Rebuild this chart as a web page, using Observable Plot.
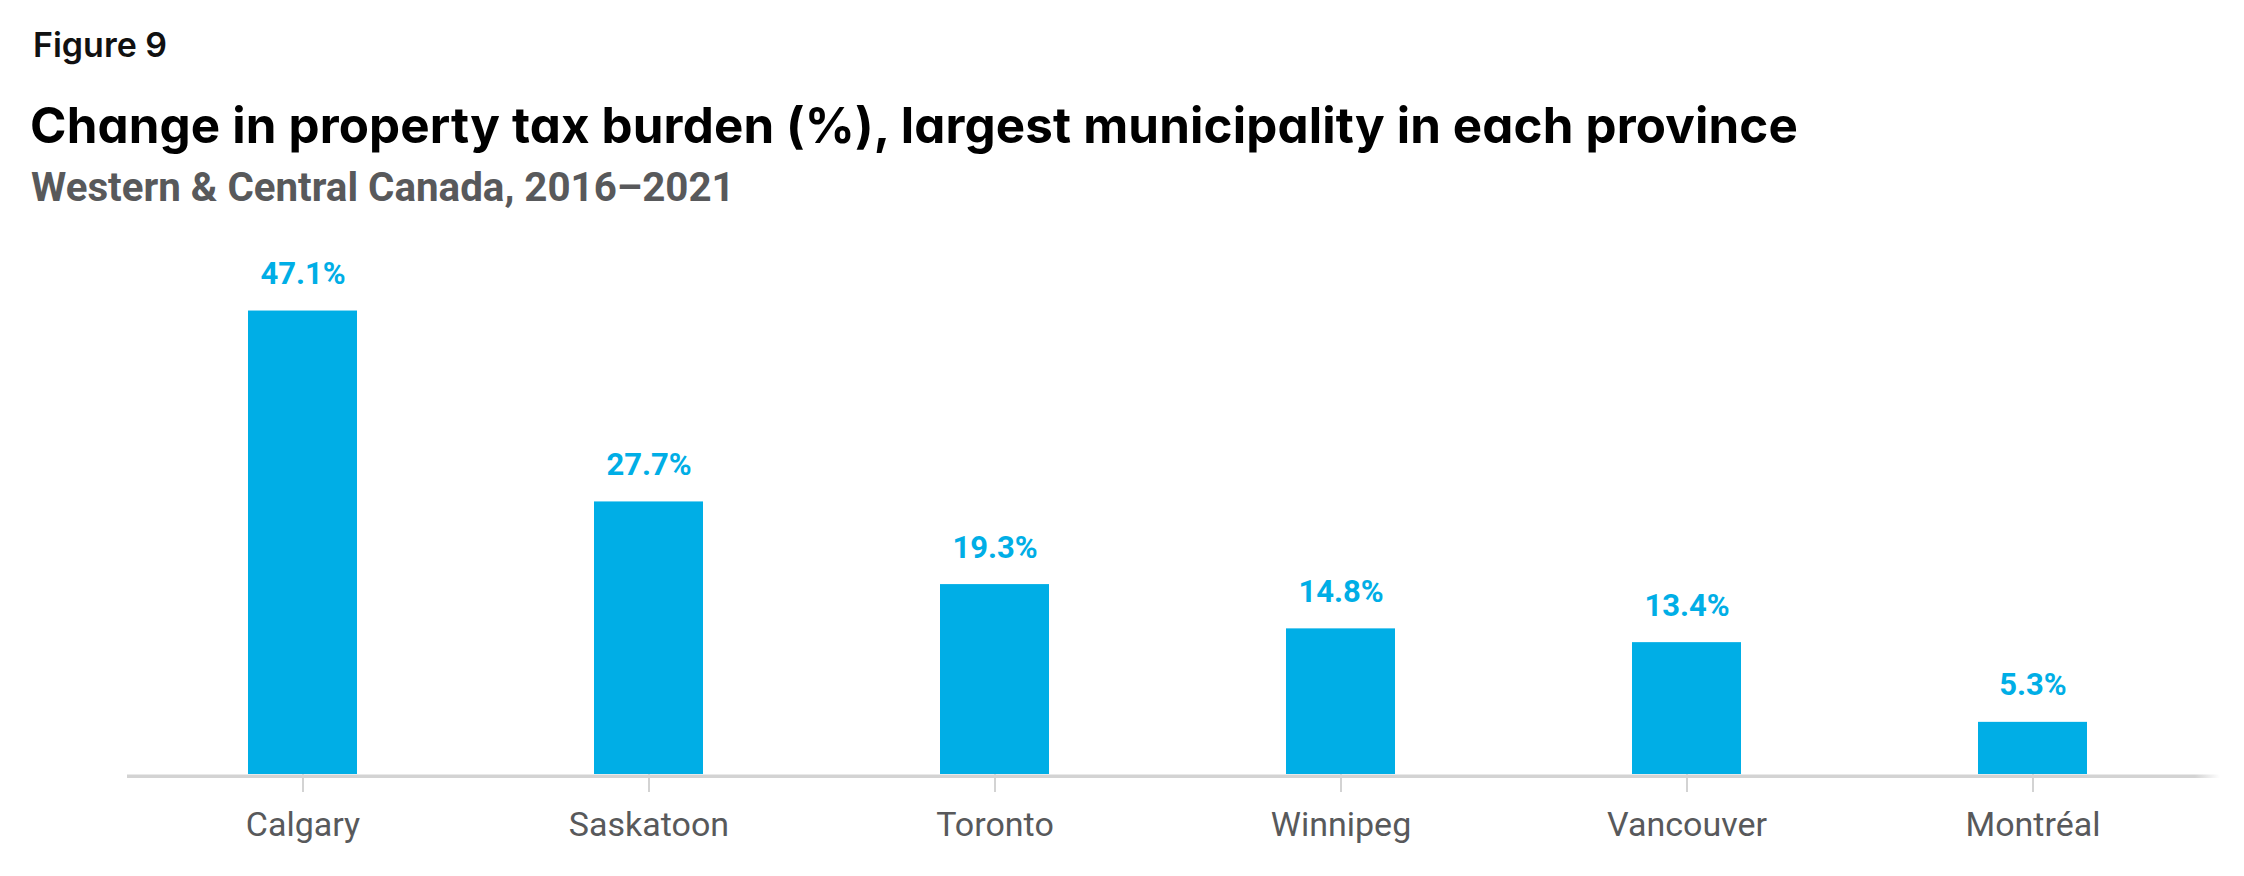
<!DOCTYPE html>
<html><head><meta charset="utf-8">
<script src="https://cdn.jsdelivr.net/npm/d3@7"></script>
<script src="https://cdn.jsdelivr.net/npm/@observablehq/plot@0.6"></script>
<style>
html,body{margin:0;padding:0;background:#fff;}
#wrap{position:relative;width:2244px;height:876px;overflow:hidden;background:#fff;}
#header{position:relative;height:230px;}
.h{position:absolute;white-space:nowrap;line-height:1;margin:0;}
#chart svg{display:block;}
</style></head><body>
<div id="wrap">
  <div id="header">
    <div class="h" id="fig">Figure 9</div>
    <div class="h" id="title">Change in property tax burden (%), largest municipality in each province</div>
    <div class="h" id="sub">Western &amp; Central Canada, 2016–2021</div>
  </div>
  <div id="chart"></div>
</div>
<script>
// ---- data ----
const cities = ["Calgary", "Saskatoon", "Toronto", "Winnipeg", "Vancouver", "Montréal"];
const changePct = [47.1, 27.7, 19.3, 14.8, 13.4, 5.3];
const yDomain = [0, 50];

const data = cities.map((city, i) => ({city, value: changePct[i]}));

// ---- header fitting ----
const cv = document.createElement("canvas");
const ctx = cv.getContext("2d");
function fit(id, o) {
  const el = document.getElementById(id);
  el.style.fontFamily = o.family;
  el.style.fontWeight = o.weight;
  el.style.color = o.color;
  if (o.features) el.style.fontFeatureSettings = o.features;
  ctx.font = `${o.weight} 100px ${o.family}`;
  const ratio = ctx.measureText("H").actualBoundingBoxAscent / 100 || 0.72;
  let size = o.cap / ratio;
  el.style.fontSize = size + "px";
  el.style.left = o.left + "px";
  el.style.top = "0px";
  el.style.letterSpacing = "0px";
  const w0 = el.getBoundingClientRect().width;
  if (o.mode === "size") {
    size = size * o.width / w0;
    el.style.fontSize = size + "px";
  } else {
    const n = el.textContent.length;
    el.style.letterSpacing = ((o.width - w0) / n) + "px";
  }
  const marker = document.createElement("span");
  marker.style.display = "inline-block";
  marker.style.width = "0";
  marker.style.height = "0";
  el.appendChild(marker);
  const hb = document.getElementById("header").getBoundingClientRect().top;
  const b = marker.getBoundingClientRect().bottom - hb;
  el.style.top = (o.baseline - b) + "px";
}
fit("fig", {family: "Inter, sans-serif", weight: 600, color: "#111", left: 33, baseline: 56.7, cap: 21.7, width: 134, mode: "size", features: '"cv11"'});
fit("title", {family: "Inter, sans-serif", weight: 700, color: "#000", left: 30, baseline: 142.7, cap: 36, width: 1768, features: '"cv11"'});
fit("sub", {family: "Roboto, sans-serif", weight: 700, color: "#58595b", left: 31, baseline: 201, cap: 23.3, width: 704, mode: "size"});

// ---- chart ----
const plot = Plot.plot({
  width: 2244,
  height: 646,
  marginTop: 52,
  marginBottom: 102,
  marginLeft: 127,
  marginRight: 24,
  x: {domain: cities, range: [127, 2208], paddingInner: 0.6864, paddingOuter: 0.3504, label: null},
  y: {domain: yDomain, axis: null},
  style: {fontFamily: "Roboto, sans-serif", background: "#fff", overflow: "visible"},
  marks: [
    Plot.axisX({tickSize: 18, tickFormat: () => "", stroke: "#c4c4c4", strokeWidth: 1.5, label: null}),
    Plot.barY(data, {x: "city", y: "value", fill: "#00aee6"}),
    Plot.ruleY([0], {stroke: "url(#axisFade)", strokeWidth: 3.5, dy: 1.75}),
    Plot.axisX({tickSize: 0, tickPadding: 37, fontSize: 34, fill: "#58595b", stroke: "none", label: null}),
    Plot.text(data, {x: "city", y: "value", text: d => d.value.toFixed(1) + "%", lineAnchor: "bottom", dy: -27, fill: "#00aee6", fontSize: 31, fontWeight: 700})
  ]
});
plot.insertAdjacentHTML("afterbegin",
  '<defs><linearGradient id="axisFade" gradientUnits="userSpaceOnUse" x1="127" x2="2220" y1="0" y2="0">' +
  '<stop offset="0" stop-color="#d3d3d3"/><stop offset="0.988" stop-color="#d3d3d3"/>' +
  '<stop offset="1" stop-color="#d3d3d3" stop-opacity="0"/></linearGradient></defs>');
document.getElementById("chart").appendChild(plot);
</script>
</body></html>
